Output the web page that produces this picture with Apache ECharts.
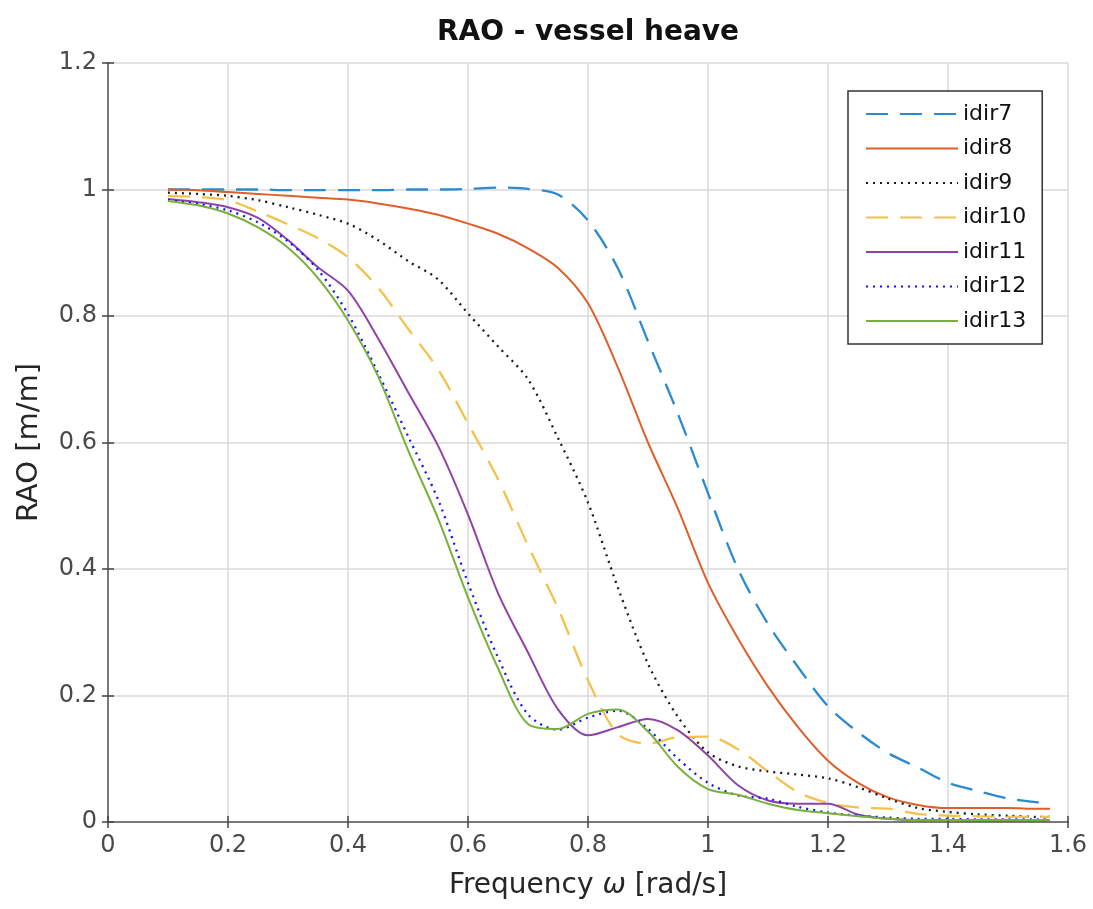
<!DOCTYPE html>
<html>
<head>
<meta charset="utf-8">
<title>RAO - vessel heave</title>
<script src="https://cdn.jsdelivr.net/npm/echarts@6.0.0/dist/echarts.min.js"></script>
<style>
  html, body { margin: 0; padding: 0; background: #fff; }
  #chart { width: 1093px; height: 909px; }
</style>
</head>
<body>
<div id="chart"></div>
<script>
// frequency points [rad/s]
var freq = [0.10,0.15,0.20,0.25,0.30,0.35,0.40,0.45,0.50,0.55,0.60,0.65,0.70,0.75,0.80,0.85,
            0.90,0.95,1.00,1.05,1.10,1.15,1.20,1.25,1.30,1.35,1.40,1.45,1.50,1.55,1.57];

// heave RAO per wave direction [m/m]
var idir7  = [1.000,1.000,1.000,1.000,0.999,0.999,0.999,0.999,1.000,1.000,1.001,1.003,1.001,0.992,0.951,0.875,
              0.760,0.645,0.520,0.400,0.313,0.245,0.183,0.142,0.109,0.086,0.062,0.049,0.037,0.031,0.028];
var idir8  = [1.000,0.999,0.996,0.993,0.990,0.987,0.984,0.978,0.970,0.960,0.946,0.930,0.907,0.876,0.820,0.718,
              0.600,0.495,0.378,0.290,0.214,0.150,0.097,0.062,0.039,0.027,0.022,0.022,0.022,0.021,0.021];
var idir9  = [0.995,0.993,0.990,0.983,0.972,0.960,0.946,0.920,0.887,0.858,0.804,0.752,0.700,0.607,0.505,0.370,
              0.250,0.166,0.110,0.088,0.080,0.075,0.069,0.055,0.037,0.022,0.016,0.012,0.010,0.008,0.008];
var idir10 = [0.990,0.988,0.983,0.965,0.945,0.923,0.893,0.845,0.780,0.716,0.630,0.542,0.437,0.338,0.224,0.139,
              0.124,0.134,0.135,0.115,0.080,0.047,0.030,0.023,0.021,0.013,0.010,0.009,0.008,0.008,0.008];
var idir11 = [0.985,0.980,0.972,0.955,0.920,0.877,0.840,0.765,0.680,0.595,0.486,0.362,0.268,0.178,0.137,0.150,
              0.163,0.145,0.105,0.058,0.034,0.029,0.029,0.012,0.005,0.003,0.003,0.002,0.002,0.002,0.002];
var idir12 = [0.983,0.977,0.967,0.948,0.918,0.873,0.803,0.710,0.610,0.510,0.378,0.260,0.170,0.146,0.165,0.176,
              0.147,0.100,0.062,0.042,0.037,0.024,0.015,0.010,0.007,0.005,0.005,0.004,0.004,0.004,0.004];
var idir13 = [0.982,0.975,0.962,0.940,0.908,0.860,0.793,0.705,0.588,0.480,0.355,0.243,0.155,0.147,0.171,0.178,
              0.143,0.087,0.052,0.043,0.029,0.019,0.014,0.009,0.005,0.003,0.003,0.003,0.003,0.003,0.003];

var names  = ['idir7','idir8','idir9','idir10','idir11','idir12','idir13'];
var values = [idir7, idir8, idir9, idir10, idir11, idir12, idir13];
var colors = ['#2b8bd0','#df5f2a','#1a1a1a','#f3c24a','#8e44a6','#1414ff','#77b03a'];
var dashes = [[22,12], 'solid', [2,5], [22,12], 'solid', [2,5], 'solid'];

var font = 'DejaVu Sans';

var series = [];
for (var i = 0; i < names.length; i++) {
  var pts = [];
  for (var j = 0; j < freq.length; j++) {
    pts.push([freq[j], values[i][j]]);
  }
  series.push({
    name: names[i],
    type: 'line',
    xAxisIndex: 0,
    yAxisIndex: 0,
    data: pts,
    smooth: 0.3,
    symbol: 'none',
    color: colors[i],
    lineStyle: { color: colors[i], width: (dashes[i] === 'solid' ? 2 : 2.3), type: dashes[i] }
  });
}

var myChart = echarts.init(document.getElementById('chart'));

var option = {
  backgroundColor: '#fff',
  animation: false,
  title: {
    text: 'RAO - vessel heave',
    left: 588,
    top: 19,
    padding: 0,
    textAlign: 'center',
    textStyle: { fontFamily: font, fontSize: 28, fontWeight: 'bold', color: '#111' }
  },
  legend: {
    data: names,
    orient: 'vertical',
    left: 848,
    top: 91,
    padding: [12, 16, 12, 17],
    itemWidth: 92,
    itemHeight: 20,
    itemGap: 12.5,
    itemStyle: { opacity: 0 },
    backgroundColor: '#fff',
    borderColor: '#333',
    borderWidth: 1.5,
    borderRadius: 0,
    textStyle: { fontFamily: font, fontSize: 22, color: '#111' }
  },
  grid: {
    left: 108,
    right: 25,
    top: 63,
    bottom: 87,
    containLabel: false,
    outerBoundsMode: 'none'
  },
  xAxis: [{
    type: 'value',
    min: 0,
    max: 1.6,
    interval: 0.2,
    name: 'Frequency {w|ω} [rad/s]',
    nameLocation: 'middle',
    nameGap: 50,
    nameTextStyle: {
      fontFamily: font, fontSize: 28, color: '#262626',
      rich: { w: { fontFamily: font, fontSize: 28, fontStyle: 'italic', color: '#262626' } }
    },
    axisLine: { show: true, lineStyle: { color: '#7a7a7a', width: 2 } },
    axisTick: { show: true, inside: true, length: 6, lineStyle: { color: '#444', width: 1.5 } },
    axisLabel: { fontFamily: font, fontSize: 24, color: '#4a4a4a', margin: 12 },
    splitLine: { show: true, lineStyle: { color: '#dadada', width: 1.5 } }
  }, {
    type: 'value',
    position: 'top',
    min: 0,
    max: 1.6,
    interval: 0.2,
    axisLine: { show: true, lineStyle: { color: '#7a7a7a', width: 2 } },
    axisTick: { show: true, inside: true, length: 6, lineStyle: { color: '#444', width: 1.5 } },
    axisLabel: { show: false },
    splitLine: { show: false }
  }],
  yAxis: [{
    type: 'value',
    min: 0,
    max: 1.2,
    interval: 0.2,
    name: 'RAO [m/m]',
    nameLocation: 'middle',
    nameGap: 64,
    nameTextStyle: { fontFamily: font, fontSize: 29, color: '#262626' },
    axisLine: { show: true, lineStyle: { color: '#7a7a7a', width: 2 } },
    axisTick: { show: true, inside: true, length: 6, lineStyle: { color: '#444', width: 1.5 } },
    axisLabel: { fontFamily: font, fontSize: 24, color: '#4a4a4a', margin: 11 },
    splitLine: { show: true, lineStyle: { color: '#dadada', width: 1.5 } }
  }, {
    type: 'value',
    position: 'right',
    min: 0,
    max: 1.2,
    interval: 0.2,
    axisLine: { show: true, lineStyle: { color: '#7a7a7a', width: 2 } },
    axisTick: { show: true, inside: true, length: 6, lineStyle: { color: '#444', width: 1.5 } },
    axisLabel: { show: false },
    splitLine: { show: false }
  }],
  series: series
};

myChart.setOption(option);
</script>
</body>
</html>
